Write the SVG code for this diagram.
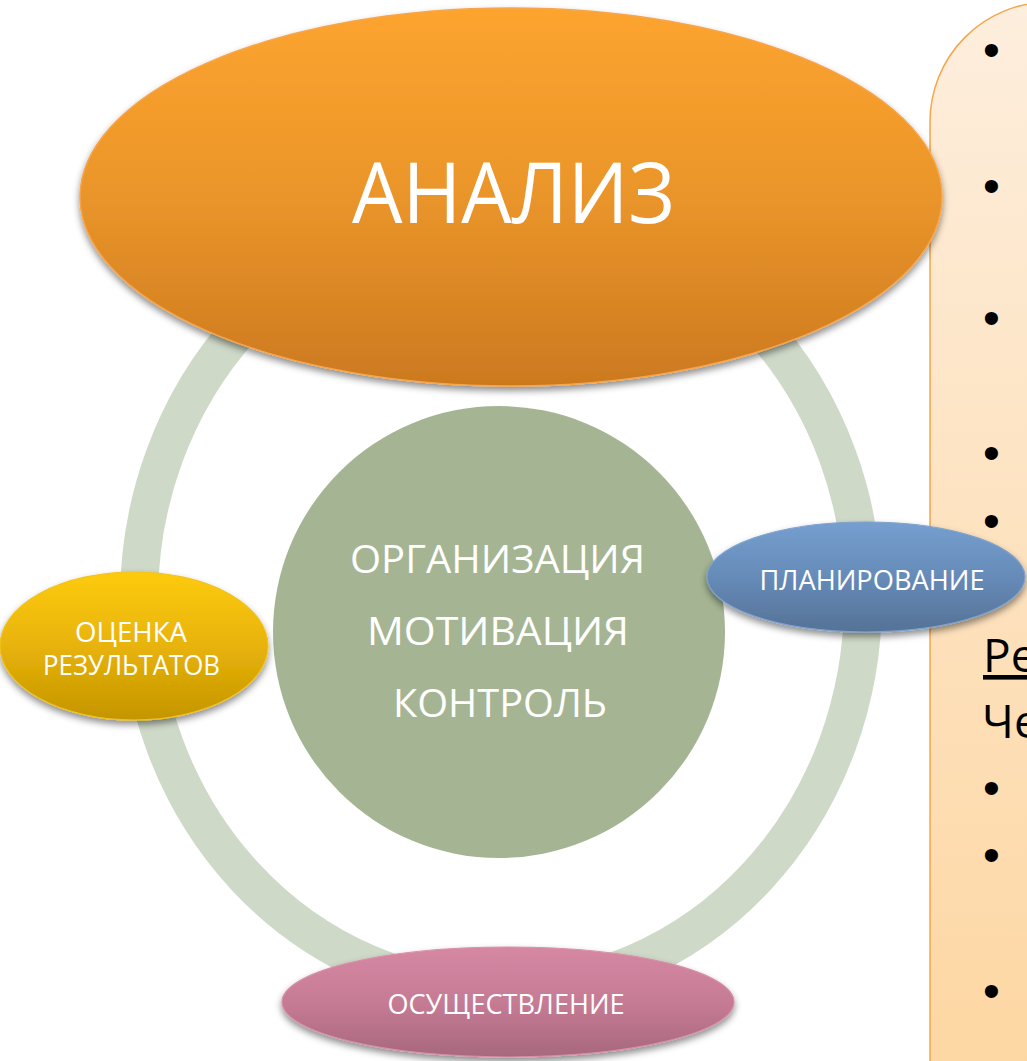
<svg xmlns="http://www.w3.org/2000/svg" width="1027" height="1061" viewBox="0 0 1027 1061">
<defs>
  <linearGradient id="gPanel" x1="0" y1="0" x2="0" y2="1">
    <stop offset="0" stop-color="#FDEEDD"/>
    <stop offset="1" stop-color="#FDD7A3"/>
  </linearGradient>
  <linearGradient id="gOrange" x1="0" y1="0" x2="0" y2="1">
    <stop offset="0" stop-color="#FDA42F"/>
    <stop offset="0.5" stop-color="#EA952A"/>
    <stop offset="1" stop-color="#CC791F"/>
  </linearGradient>
  <linearGradient id="gYellow" x1="0" y1="0" x2="0" y2="1">
    <stop offset="0" stop-color="#FDCB10"/>
    <stop offset="0.5" stop-color="#E8B308"/>
    <stop offset="1" stop-color="#C49503"/>
  </linearGradient>
  <linearGradient id="gBlue" x1="0" y1="0" x2="0" y2="1">
    <stop offset="0" stop-color="#759FCF"/>
    <stop offset="0.5" stop-color="#668BB8"/>
    <stop offset="1" stop-color="#557296"/>
  </linearGradient>
  <linearGradient id="gPink" x1="0" y1="0" x2="0" y2="1">
    <stop offset="0" stop-color="#D688A3"/>
    <stop offset="0.5" stop-color="#C67B94"/>
    <stop offset="1" stop-color="#A7687E"/>
  </linearGradient>
  <filter id="shadow" x="-10%" y="-10%" width="120%" height="130%">
    <feDropShadow dx="0" dy="4" stdDeviation="3.5" flood-color="#000" flood-opacity="0.45"/>
  </filter>
</defs>
<style>
  .lbl { font-family: "Open Sans", "Noto Sans", "Liberation Sans", sans-serif; fill: #FFFFFF; text-anchor: middle; }
  .side { font-family: "Open Sans", "Noto Sans", "Liberation Sans", sans-serif; fill: #000000; font-size: 46px; }
  .bul { font-family: "Liberation Sans", "DejaVu Sans", sans-serif; fill: #000000; font-size: 48px; }
</style>

<g id="panel">
  <path d="M930,1065 L930,122 A120,120 0 0 1 1050,2 L1030,2 L1030,1065 Z" fill="url(#gPanel)" stroke="#F5A54A" stroke-width="1.5"/>
  <text class="bul" x="983" y="66">•</text>
  <text class="bul" x="983" y="202">•</text>
  <text class="bul" x="983" y="334">•</text>
  <text class="bul" x="983" y="469">•</text>
  <text class="bul" x="983" y="537">•</text>
  <text class="side" x="983" y="672" text-decoration="underline">Ре</text>
  <text class="side" x="982" y="738">Че</text>
  <text class="bul" x="983" y="804">•</text>
  <text class="bul" x="983" y="871">•</text>
  <text class="bul" x="983" y="1007">•</text>
</g>

<g id="connectors">
  <ellipse cx="501" cy="600" rx="362" ry="391" fill="none" stroke="#CFD9C8" stroke-width="38"/>
</g>

<g id="center">
  <circle cx="499" cy="632" r="226" fill="#A5B593"/>
  <text class="lbl" x="497.5" y="573" font-size="39" textLength="295" lengthAdjust="spacingAndGlyphs">ОРГАНИЗАЦИЯ</text>
  <text class="lbl" x="498" y="645" font-size="39" textLength="262" lengthAdjust="spacingAndGlyphs">МОТИВАЦИЯ</text>
  <text class="lbl" x="500" y="717" font-size="39" textLength="214" lengthAdjust="spacingAndGlyphs">КОНТРОЛЬ</text>
</g>

<g id="analiz">
  <ellipse cx="511" cy="197" rx="431" ry="189" fill="url(#gOrange)" stroke="#F7A54B" stroke-width="1.5" filter="url(#shadow)"/>
  <text class="lbl" x="513.5" y="223" font-size="84" textLength="323" lengthAdjust="spacingAndGlyphs">АНАЛИЗ</text>
</g>

<g id="ocenka">
  <ellipse cx="134" cy="646" rx="134" ry="74" fill="url(#gYellow)" stroke="#F2C21A" stroke-width="1.2" filter="url(#shadow)"/>
  <text class="lbl" x="131" y="642" font-size="28" textLength="112" lengthAdjust="spacingAndGlyphs">ОЦЕНКА</text>
  <text class="lbl" x="131.5" y="675" font-size="28" textLength="177" lengthAdjust="spacingAndGlyphs">РЕЗУЛЬТАТОВ</text>
</g>

<g id="planirovanie">
  <ellipse cx="866" cy="577" rx="159" ry="55" fill="url(#gBlue)" stroke="#7EA2CC" stroke-width="1.2" filter="url(#shadow)"/>
  <text class="lbl" x="872" y="590" font-size="28" textLength="225" lengthAdjust="spacingAndGlyphs">ПЛАНИРОВАНИЕ</text>
</g>

<g id="osushchestvlenie">
  <ellipse cx="508" cy="1002" rx="226" ry="55" fill="url(#gPink)" stroke="#D690A8" stroke-width="1.2" filter="url(#shadow)"/>
  <text class="lbl" x="506" y="1014" font-size="28" textLength="237" lengthAdjust="spacingAndGlyphs">ОСУЩЕСТВЛЕНИЕ</text>
</g>
</svg>
